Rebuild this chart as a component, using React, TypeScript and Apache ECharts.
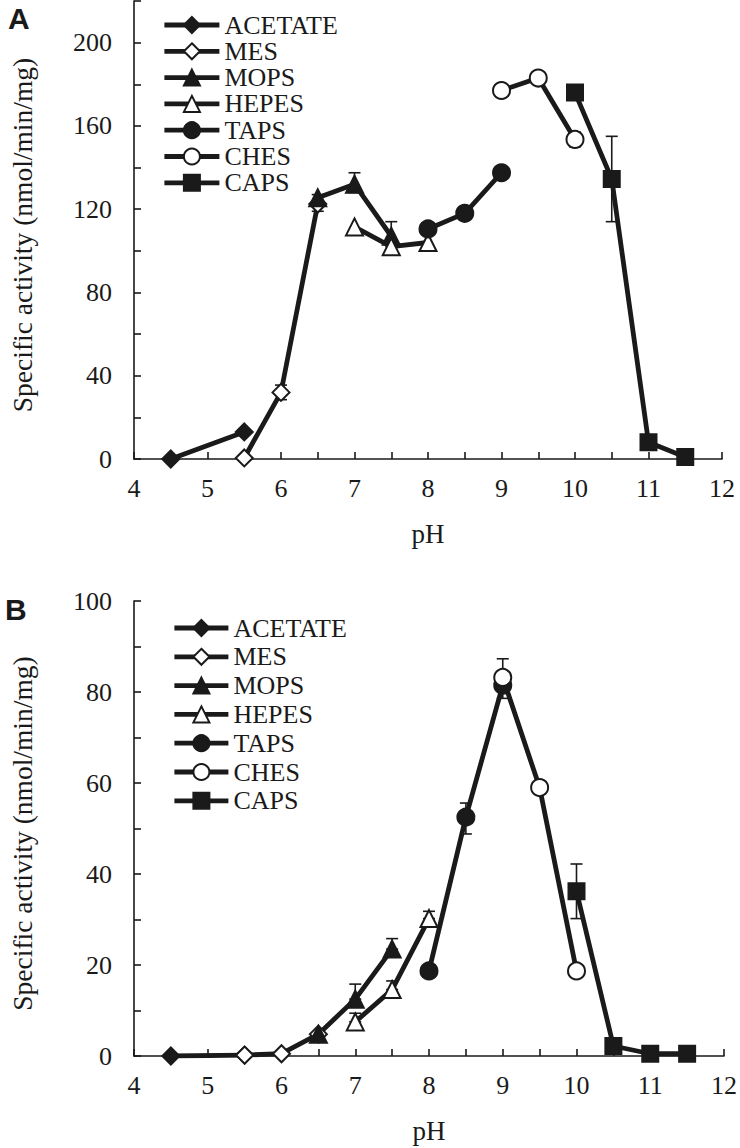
import React, { useEffect, useRef } from "react";
import * as echarts from "echarts";

// ---- Data ----
const BUFFERS = ["ACETATE", "MES", "MOPS", "HEPES", "TAPS", "CHES", "CAPS"];

// Panel A: [pH, specific activity]
const acetateA = [[4.5, 0], [5.5, 13]];
const mesA = [[5.5, 0.5], [6, 32], [6.5, 122.5]];
const mopsA = [[6.5, 125.5], [7, 132], [7.5, 107]];
const hepesA = [[7, 111.5], [7.5, 102], [8, 104]];
const tapsA = [[8, 110.5], [8.5, 118], [9, 137.5]];
const chesA = [[9, 177], [9.5, 183], [10, 153.5]];
const capsA = [[10, 176], [10.5, 134.5], [11, 8], [11.5, 1]];
// error bars A: [pH, low, high]
const errA = [
  [6, 28.5, 35.5],
  [6.5, 119, 127],
  [7, 128, 137.5],
  [7.5, 102, 114],
  [10, 150, 157],
  [10.5, 114, 155],
];

// Panel B
const acetateB = [[4.5, 0], [5.5, 0.2]];
const mesB = [[5.5, 0.2], [6, 0.5], [6.5, 4.8]];
const mopsB = [[6.5, 4.8], [7, 12.5], [7.5, 23.5]];
const hepesB = [[7, 7.5], [7.5, 14.6], [8, 30.2]];
const tapsB = [[8, 18.7], [8.5, 52.5], [9, 81.5]];
const chesB = [[9, 83.2], [9.5, 59], [10, 18.7]];
const capsB = [[10, 36.2], [10.5, 2.2], [11, 0.5], [11.5, 0.5]];
const errB = [
  [7, 12.5, 15.8],
  [7, 7.5, 9.4],
  [7.5, 23.5, 25.8],
  [7.5, 14.6, 16.5],
  [8, 30.2, 31.8],
  [8.5, 48.8, 55.6],
  [9, 83.2, 87.3],
  [9, 78.6, 81.5],
  [10, 30.2, 42.2],
];

const X_MIN = 4;
const X_MAX = 12;
const X_STEP = 0.5;
const YA_MAX = 220;
const YA_STEP = 20;
const YA_LABEL_STEP = 40;
const YB_MAX = 100;
const YB_STEP = 10;
const YB_LABEL_STEP = 20;

const INK = "#1a1a1a";
const SERIF = "'Liberation Serif', 'Times New Roman', serif";

const STYLES: Record<string, { symbol: string; fill: string; size: number }> = {
  ACETATE: { symbol: "diamond", fill: INK, size: 17 },
  MES: { symbol: "diamond", fill: "#ffffff", size: 17 },
  MOPS: { symbol: "triangle", fill: INK, size: 17 },
  HEPES: { symbol: "triangle", fill: "#ffffff", size: 17 },
  TAPS: { symbol: "circle", fill: INK, size: 17 },
  CHES: { symbol: "circle", fill: "#ffffff", size: 17 },
  CAPS: { symbol: "rect", fill: INK, size: 16 },
};

const panelA = [acetateA, mesA, mopsA, hepesA, tapsA, chesA, capsA];
const panelB = [acetateB, mesB, mopsB, hepesB, tapsB, chesB, capsB];

function lineSeries(name: string, data: number[][], idx: number) {
  const s = STYLES[name];
  return {
    type: "line",
    name,
    data,
    xAxisIndex: idx,
    yAxisIndex: idx,
    symbol: s.symbol,
    symbolSize: s.size,
    showAllSymbol: true,
    z: 3,
    lineStyle: { color: INK, width: 4.8 },
    itemStyle: { color: s.fill, borderColor: INK, borderWidth: 2, opacity: 1 },
    emphasis: { disabled: true },
  };
}

function errSeries(data: number[][], idx: number) {
  return {
    type: "custom",
    name: "err" + idx,
    xAxisIndex: idx,
    yAxisIndex: idx,
    z: 2,
    data,
    encode: { x: 0, y: [1, 2] },
    renderItem: (_p: any, api: any) => {
      const x = api.value(0);
      const lo = api.coord([x, api.value(1)]);
      const hi = api.coord([x, api.value(2)]);
      const w = 6;
      const st = { stroke: INK, lineWidth: 1.6 };
      return {
        type: "group",
        children: [
          { type: "line", shape: { x1: lo[0], y1: lo[1], x2: hi[0], y2: hi[1] }, style: st },
          { type: "line", shape: { x1: hi[0] - w, y1: hi[1], x2: hi[0] + w, y2: hi[1] }, style: st },
          { type: "line", shape: { x1: lo[0] - w, y1: lo[1], x2: lo[0] + w, y2: lo[1] }, style: st },
        ],
      };
    },
  };
}

function xAxis(idx: number) {
  return {
    type: "value",
    gridIndex: idx,
    min: X_MIN,
    max: X_MAX,
    interval: X_STEP,
    name: "pH",
    nameLocation: "middle",
    nameGap: 61,
    nameTextStyle: { fontFamily: SERIF, fontSize: 27, color: INK },
    axisLine: { show: true, lineStyle: { color: INK, width: 1.6 } },
    axisTick: { show: true, inside: true, length: 7, lineStyle: { color: INK, width: 1.6 } },
    splitLine: { show: false },
    axisLabel: {
      margin: 16,
      fontFamily: SERIF,
      fontSize: 26,
      color: INK,
      formatter: (v: number) => (Math.abs(v % 1) < 1e-9 ? String(v) : ""),
    },
  };
}

function yAxis(idx: number, max: number, step: number, labelStep: number, labelMax: number) {
  return {
    type: "value",
    gridIndex: idx,
    min: 0,
    max,
    interval: step,
    name: "Specific activity (nmol/min/mg)",
    nameLocation: "middle",
    nameGap: 98,
    nameTextStyle: { fontFamily: SERIF, fontSize: 27.5, color: INK, padding: [0, 10, 0, 0] },
    axisLine: { show: true, lineStyle: { color: INK, width: 1.6 } },
    axisTick: { show: true, inside: true, length: 7, lineStyle: { color: INK, width: 1.6 } },
    splitLine: { show: false },
    axisLabel: {
      margin: 22,
      fontFamily: SERIF,
      fontSize: 26,
      color: INK,
      formatter: (v: number) => (v % labelStep === 0 && v <= labelMax ? String(v) : ""),
    },
  };
}

function legend(left: number, top: number, gap: number, itemWidth: number) {
  return {
    show: true,
    orient: "vertical",
    left,
    top,
    itemWidth,
    itemHeight: 20,
    itemGap: gap,
    selectedMode: false,
    data: BUFFERS,
    lineStyle: { color: INK, width: 4.8 },
    textStyle: { fontFamily: SERIF, fontSize: 26, color: INK, lineHeight: 26 },
  };
}

export default function App() {
  const ref = useRef<HTMLDivElement>(null);
  useEffect(() => {
    if (!ref.current) return;
    const chart = echarts.init(ref.current, undefined, { renderer: "svg" });
    const series: any[] = [];
    BUFFERS.forEach((n, i) => series.push(lineSeries(n, panelA[i], 0)));
    BUFFERS.forEach((n, i) => series.push(lineSeries(n, panelB[i], 1)));
    series.push(errSeries(errA, 0));
    series.push(errSeries(errB, 1));
    chart.setOption({
      animation: false,
      backgroundColor: "#ffffff",
      textStyle: { fontFamily: SERIF },
      grid: [
        { left: 125, width: 597, top: 1, height: 458 },
        { left: 127, width: 597, top: 601, height: 455 },
      ],
      xAxis: [xAxis(0), xAxis(1)],
      yAxis: [yAxis(0, YA_MAX, YA_STEP, YA_LABEL_STEP, 200), yAxis(1, YB_MAX, YB_STEP, YB_LABEL_STEP, 100)],
      legend: [legend(157, 7, 0.3, 55), legend(167, 610, 2.8, 54)],
      graphic: [
        {
          type: "text",
          left: 8,
          top: 3,
          style: { text: "A", fontFamily: "'Liberation Sans', Arial, sans-serif", fontWeight: "bold", fontSize: 30, fill: INK },
        },
        {
          type: "text",
          left: 5,
          top: 594,
          style: { text: "B", fontFamily: "'Liberation Sans', Arial, sans-serif", fontWeight: "bold", fontSize: 30, fill: INK },
        },
      ],
      series,
    });
    return () => chart.dispose();
  }, []);
  return (
    <div
      ref={ref}
      style={{ position: "fixed", left: 0, top: 0, width: 740, height: 1148, background: "#fff" }}
    />
  );
}
